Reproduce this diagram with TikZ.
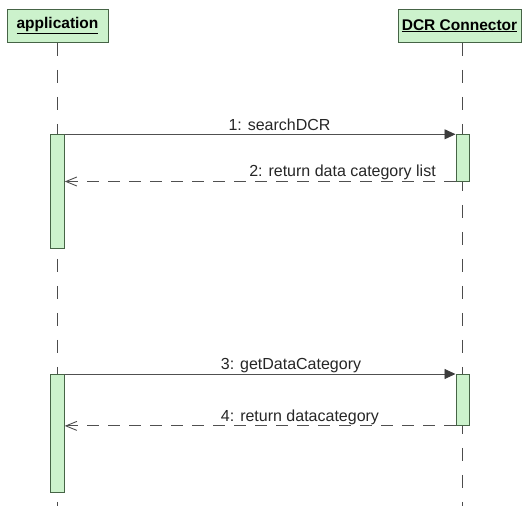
\documentclass[tikz,border=0pt]{standalone}
\usepackage{fontspec}
\setmainfont{Liberation Sans}
\usetikzlibrary{arrows.meta}
\definecolor{umlfill}{RGB}{204,242,204}
\definecolor{umlborder}{RGB}{70,100,70}
\definecolor{msgline}{RGB}{80,80,80}
\definecolor{headfill}{RGB}{60,60,60}
\begin{document}
\begin{tikzpicture}[x=1pt,y=-1pt,
  objbox/.style={draw=umlborder, fill=umlfill, line width=1pt, inner sep=0pt,
    minimum height=33pt, font=\fontsize{15.5}{18}\selectfont\bfseries},
  actbar/.style={draw=umlborder, fill=umlfill, line width=0.9pt, minimum width=13.5pt,
    inner sep=0pt, anchor=north},
  lifeline/.style={draw=black!70, line width=0.9pt, dash pattern=on 13.5pt off 13.5pt},
  callmsg/.style={draw=msgline, line width=0.9pt,
    -{Triangle[length=11pt,width=10pt,fill=headfill,color=headfill]}},
  retmsg/.style={draw=msgline, line width=0.9pt, dash pattern=on 12pt off 9pt,
    -{Straight Barb[length=11pt,width=9pt]}},
  msglabel/.style={font=\fontsize{16}{19}\selectfont, inner sep=0pt, anchor=base, text=black!85}
]
\useasboundingbox (0,0) rectangle (528,506);
% objects
\node[objbox, minimum width=101pt] (app) at (57.5,25.8) {\underline{application}};
\node[objbox, minimum width=123pt] (dcr) at (459.5,25.8) {\underline{DCR Connector}};
% lifelines
\coordinate (appEnd) at (57.5,506);
\coordinate (dcrEnd) at (462.7,506);
\draw[lifeline] (app.south) -- (appEnd);
\draw[lifeline] (dcr.south -| dcrEnd) -- (dcrEnd);
% activation bars
\node[actbar, minimum height=113.4pt] (a1) at (57.5,134.3) {};
\node[actbar, minimum height=46.3pt] (b1) at (462.7,134.3) {};
\node[actbar, minimum height=118pt] (a2) at (57.5,374) {};
\node[actbar, minimum height=51pt] (b2) at (462.7,374) {};
% messages
\draw[callmsg] (a1.north east) -- (b1.north west);
\draw[retmsg] (b1.south west) -- (b1.south west -| a1.east);
\draw[callmsg] (a2.north east) -- (b2.north west);
\draw[retmsg] (b2.south west) -- (b2.south west -| a2.east);
% labels
\node[msglabel] (m1) at (279.5,130.3) {1: searchDCR};
\node[msglabel] (m2) at (342.5,176.8) {2: return data category list};
\node[msglabel] (m3) at (291,369.3) {3: getDataCategory};
\node[msglabel] (m4) at (300,421) {4: return datacategory};
\end{tikzpicture}
\end{document}
